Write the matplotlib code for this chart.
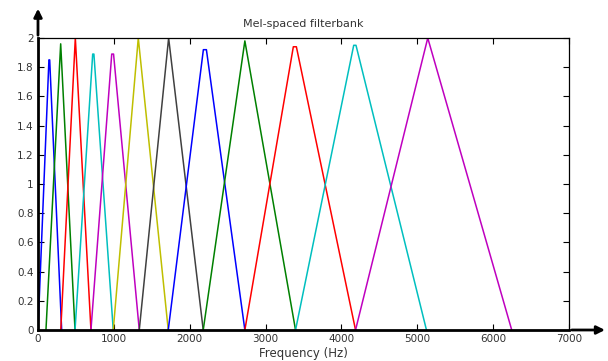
import matplotlib
matplotlib.use("Agg")
import matplotlib.pyplot as plt

# triangular filters: start, peak, end (Hz), peak height, flat top width (Hz)
starts = [0, 105, 300, 488, 698, 992, 1335, 1717, 2178, 2727, 3395, 4186]
peaks = [149, 299, 492, 729, 984, 1322, 1722, 2200, 2727, 3386, 4177, 5138]
ends = [312, 488, 698, 992, 1335, 1717, 2178, 2727, 3395, 4186, 5121, 6245]
heights = [1.85, 1.96, 2.0, 1.89, 1.89, 2.0, 2.0, 1.92, 1.98, 1.94, 1.95, 2.0]
flat = [10, 0, 0, 16, 24, 0, 0, 40, 0, 40, 30, 0]

colors = ["#0000ff", "#008000", "#ff0000", "#00bfbf", "#bf00bf",
          "#bfbf00", "#404040"]

xticks = [0, 1000, 2000, 3000, 4000, 5000, 6000, 7000]
yticks = [0, 0.2, 0.4, 0.6, 0.8, 1, 1.2, 1.4, 1.6, 1.8, 2]
ylabels = ["0", "0.2", "0.4", "0.6", "0.8", "1", "1.2", "1.4", "1.6", "1.8", "2"]

plt.rcParams["font.family"] = ["DejaVu Sans"]

fig = plt.figure(figsize=(6.08, 3.61), dpi=100)
ax = fig.add_axes([38 / 608, 31 / 361, 531 / 608, 292 / 361])

for i in range(len(peaks)):
    h = flat[i] / 2
    xs = [starts[i], peaks[i] - h, peaks[i] + h, ends[i]]
    ys = [0, heights[i], heights[i], 0]
    ax.plot(xs, ys, color=colors[i % len(colors)], lw=1.1,
            solid_joinstyle="round")

ax.set_xlim(0, 7000)
ax.set_ylim(0, 2)
ax.set_xticks(xticks)
ax.set_yticks(yticks)
ax.set_yticklabels(ylabels)
ax.tick_params(direction="in", length=4, width=0.8, labelsize=7.5,
               top=True, right=True, colors="black", pad=3)
for lab in ax.get_xticklabels() + ax.get_yticklabels():
    lab.set_color("#333333")

for s in ["top", "right"]:
    ax.spines[s].set_linewidth(0.9)
for s in ["left", "bottom"]:
    ax.spines[s].set_linewidth(2)

# arrow heads on the left and bottom axes
ax.annotate("", xy=(0, 1.11), xytext=(0, 1.0), xycoords="axes fraction",
            arrowprops=dict(arrowstyle="-|>", color="black", lw=2,
                            mutation_scale=12), annotation_clip=False)
ax.annotate("", xy=(1.073, 0), xytext=(1.0, 0), xycoords="axes fraction",
            arrowprops=dict(arrowstyle="-|>", color="black", lw=2,
                            mutation_scale=12), annotation_clip=False)

ax.set_title("Mel-spaced filterbank", fontsize=8, color="#333333", pad=8)
ax.set_xlabel("Frequency (Hz)", fontsize=8.5, color="#333333", labelpad=2)

fig.savefig("out.png", dpi=100)
